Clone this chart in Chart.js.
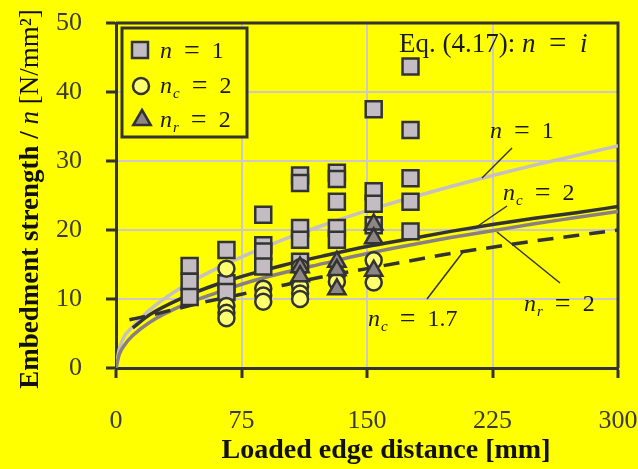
<!DOCTYPE html>
<html lang="en">
<head>
<meta charset="UTF-8" />
<title>Embedment strength vs loaded edge distance</title>
<script src="https://cdn.jsdelivr.net/npm/chart.js"></script>
<style>
  body { margin: 0; background: #ffff00; }
  #wrap { width: 638px; height: 469px; position: relative; }
</style>
</head>
<body>
<div id="wrap"><canvas id="embedChart"></canvas></div>
<script>
// axis ticks
const xTicks = [0, 75, 150, 225, 300];
const yTicks = [0, 10, 20, 30, 40, 50];

// test results, n = 1 (squares)
const squareX = [44, 44, 44, 66, 66, 66, 88, 88, 88, 88, 110, 110, 110, 110, 110,
                 132, 132, 132, 132, 132, 154, 154, 154, 154, 176, 176, 176, 176, 176];
const squareY = [14.8, 12.5, 10.3, 17.1, 12.3, 11.0, 22.2, 17.8, 16.9, 14.7, 27.9, 26.8, 20.3, 18.6, 15.4,
                 28.3, 27.4, 24.1, 20.3, 18.6, 37.5, 25.6, 23.8, 20.7, 43.7, 34.5, 27.5, 24.1, 19.8];

// test results, n_c = 2 (circles)
const circleX = [66, 66, 66, 66, 88, 88, 88, 110, 110, 110, 110, 132, 132, 154, 154];
const circleY = [14.4, 9.0, 8.0, 7.2, 11.5, 10.5, 9.6, 14.6, 11.8, 10.8, 10.0, 13.5, 12.5, 15.6, 12.4];

// test results, n_r = 2 (triangles)
const triX = [110, 110, 132, 132, 132, 154, 154, 154];
const triY = [14.6, 13.3, 15.4, 14.2, 11.4, 20.8, 18.8, 14.1];

// Eq. (4.17) curves
const curveN1X = [0, 2, 5, 10, 20, 40, 60, 80, 100, 125, 150, 175, 200, 225, 250, 275, 300];
const curveN1Y = [0, 2.8, 4.6, 6.0, 8.4, 11.8, 14.4, 16.6, 18.6, 20.8, 22.8, 24.6, 26.3, 27.9, 29.4, 30.8, 32.2];

const curveNc2X = [10, 20, 40, 60, 80, 100, 125, 150, 175, 200, 225, 250, 275, 300];
const curveNc2Y = [5.8, 7.7, 10.2, 12.1, 13.6, 14.9, 16.3, 17.6, 18.7, 19.8, 20.8, 21.7, 22.5, 23.4];

const curveNr2X = [0, 2, 5, 10, 20, 40, 60, 80, 100, 125, 150, 175, 200, 225, 250, 275, 300];
const curveNr2Y = [0, 2.0, 3.3, 4.7, 6.6, 9.1, 10.9, 12.5, 13.8, 15.2, 16.6, 17.8, 18.9, 19.9, 20.9, 21.8, 22.7];

const curveNc17X = [8, 20, 30, 50, 75, 100, 125, 150, 175, 200, 225, 250, 275, 300];
const curveNc17Y = [7.0, 7.6, 8.2, 9.4, 10.7, 12.0, 13.3, 14.4, 15.5, 16.6, 17.5, 18.4, 19.2, 20.0];

const SERIF = '"Liberation Serif", "DejaVu Serif", serif';
const INK = '#333333';
const SQUARE_FILL = '#c3bcc2';
const CIRCLE_FILL = '#ffff70';
const TRI_FILL = '#8e8585';

const pts = (xs, ys) => xs.map((x, i) => ({ x: x, y: ys[i] }));

function mathLabel(ctx, x, y, base, sub, rhs, size, rhsItalic) {
  ctx.font = `italic ${size}px ${SERIF}`;
  ctx.fillText(base, x, y);
  let cx = x + ctx.measureText(base).width;
  if (sub) {
    ctx.font = `italic ${Math.round(size * 0.62)}px ${SERIF}`;
    ctx.fillText(sub, cx + 1, y + size * 0.2);
    cx += ctx.measureText(sub).width + 1;
  }
  ctx.font = `${size}px ${SERIF}`;
  cx += size * 0.5;
  ctx.font = `${Math.round(size * 1.15)}px ${SERIF}`;
  ctx.fillText('=', cx, y + 1);
  cx += ctx.measureText('=').width + size * 0.5;
  ctx.font = `${rhsItalic ? 'italic ' : ''}${size}px ${SERIF}`;
  ctx.fillText(rhs, cx, y);
}

function leader(ctx, x1, y1, x2, y2) {
  ctx.beginPath();
  ctx.moveTo(x1, y1);
  ctx.lineTo(x2, y2);
  ctx.stroke();
}

function marker(ctx, kind, x, y) {
  ctx.lineWidth = 2.5;
  ctx.strokeStyle = INK;
  ctx.beginPath();
  if (kind === 'rect') {
    ctx.fillStyle = SQUARE_FILL;
    ctx.rect(x - 8, y - 8, 16, 16);
  } else if (kind === 'circle') {
    ctx.fillStyle = CIRCLE_FILL;
    ctx.arc(x, y, 8, 0, Math.PI * 2);
  } else {
    ctx.fillStyle = TRI_FILL;
    ctx.moveTo(x, y - 10);
    ctx.lineTo(x + 8.7, y + 5);
    ctx.lineTo(x - 8.7, y + 5);
    ctx.closePath();
  }
  ctx.fill();
  ctx.stroke();
}

const decorations = {
  id: 'decorations',
  beforeDraw(chart) {
    const ctx = chart.ctx;
    ctx.save();
    ctx.fillStyle = '#ffff00';
    ctx.fillRect(0, 0, chart.width, chart.height);
    ctx.restore();
  },
  beforeDatasetsDraw(chart) {
    const { ctx, chartArea: a } = chart;
    ctx.save();
    ctx.strokeStyle = INK;
    ctx.lineWidth = 3;
    ctx.beginPath();
    ctx.moveTo(a.left, a.top);
    ctx.lineTo(a.right, a.top);
    ctx.lineTo(a.right, a.bottom);
    ctx.stroke();
    ctx.restore();
  },
  afterDraw(chart) {
    const ctx = chart.ctx;
    ctx.save();
    ctx.textBaseline = 'alphabetic';

    // legend
    ctx.fillStyle = '#ffff00';
    ctx.fillRect(122, 28, 125, 109);
    ctx.strokeStyle = INK;
    ctx.lineWidth = 3;
    ctx.strokeRect(122, 28, 125, 109);
    marker(ctx, 'rect', 140, 50);
    marker(ctx, 'circle', 141, 86);
    marker(ctx, 'tri', 142, 120);
    ctx.fillStyle = '#1a1a1a';
    mathLabel(ctx, 160, 58, 'n', '', '1', 24);
    mathLabel(ctx, 160, 93, 'n', 'c', '2', 24);
    mathLabel(ctx, 160, 127, 'n', 'r', '2', 24);

    // equation note
    ctx.font = `27px ${SERIF}`;
    ctx.fillText('Eq. (4.17):', 399, 52);
    const w = ctx.measureText('Eq. (4.17): ').width;
    mathLabel(ctx, 399 + w, 52, 'n', '', 'i', 27, true);

    // curve labels
    mathLabel(ctx, 490, 138, 'n', '', '1', 24);
    mathLabel(ctx, 503, 200, 'n', 'c', '2', 24);
    mathLabel(ctx, 524, 311, 'n', 'r', '2', 24);
    mathLabel(ctx, 368, 326, 'n', 'c', '1.7', 24);
    ctx.strokeStyle = INK;
    ctx.lineWidth = 1.5;
    leader(ctx, 512, 148, 482, 178);
    leader(ctx, 507, 206, 475, 228);
    leader(ctx, 497, 232, 560, 283);
    leader(ctx, 427, 299, 463, 252);

    // axis titles
    ctx.fillStyle = '#111111';
    ctx.textAlign = 'center';
    ctx.font = `bold 28px ${SERIF}`;
    ctx.fillText('Loaded edge distance [mm]', 386, 458);

    ctx.translate(38, 199);
    ctx.rotate(-Math.PI / 2);
    ctx.textAlign = 'left';
    const parts = [
      [`bold 27px ${SERIF}`, 'Embedment strength / '],
      [`italic 27px ${SERIF}`, 'n'],
      [`27px ${SERIF}`, ' [N/mm²]']
    ];
    let total = 0;
    parts.forEach(p => { ctx.font = p[0]; total += ctx.measureText(p[1]).width; });
    let px = -total / 2;
    parts.forEach(p => {
      ctx.font = p[0];
      ctx.fillText(p[1], px, 0);
      px += ctx.measureText(p[1]).width;
    });
    ctx.restore();
  }
};

const tickFont = { family: SERIF, size: 26 };

new Chart(document.getElementById('embedChart'), {
  type: 'scatter',
  data: {
    datasets: [
      {
        label: 'n = 1', data: pts(squareX, squareY), order: 3,
        pointStyle: 'rect', pointRadius: 11.3, pointBackgroundColor: SQUARE_FILL,
        pointBorderColor: INK, pointBorderWidth: 2.5
      },
      {
        label: 'nc = 2', data: pts(circleX, circleY), order: 2,
        pointStyle: 'circle', pointRadius: 8, pointBackgroundColor: CIRCLE_FILL,
        pointBorderColor: INK, pointBorderWidth: 2.5
      },
      {
        label: 'nr = 2', data: pts(triX, triY), order: 1,
        pointStyle: 'triangle', pointRadius: 10, pointBackgroundColor: TRI_FILL,
        pointBorderColor: INK, pointBorderWidth: 2.5
      },
      {
        label: 'Eq. n = 1', data: pts(curveN1X, curveN1Y), order: 13, showLine: true,
        borderColor: '#c6c0c0', borderWidth: 3.5, pointRadius: 0, cubicInterpolationMode: 'monotone'
      },
      {
        label: 'Eq. nr = 2', data: pts(curveNr2X, curveNr2Y), order: 12, showLine: true,
        borderColor: '#8a8080', borderWidth: 3.5, pointRadius: 0, cubicInterpolationMode: 'monotone'
      },
      {
        label: 'Eq. nc = 1.7', data: pts(curveNc17X, curveNc17Y), order: 11, showLine: true,
        borderColor: INK, borderWidth: 3.5, borderDash: [16, 10], pointRadius: 0,
        cubicInterpolationMode: 'monotone'
      },
      {
        label: 'Eq. nc = 2', data: pts(curveNc2X, curveNc2Y), order: 10, showLine: true,
        borderColor: INK, borderWidth: 3.5, pointRadius: 0, cubicInterpolationMode: 'monotone'
      }
    ]
  },
  options: {
    responsive: true,
    maintainAspectRatio: false,
    animation: false,
    layout: { padding: { top: 23, right: 20, left: 0, bottom: 0 } },
    plugins: { legend: { display: false }, tooltip: { enabled: false } },
    scales: {
      x: {
        type: 'linear', min: 0, max: 300,
        afterBuildTicks: s => { s.ticks = xTicks.map(v => ({ value: v })); },
        afterFit: s => { s.height = 101; s.paddingLeft = 0; s.paddingRight = 0; },
        border: { display: true, color: INK, width: 3 },
        grid: { color: '#cfc8c8', lineWidth: 2, tickColor: INK, tickWidth: 3, tickLength: 10 },
        ticks: { font: tickFont, color: '#3a3a3a', padding: 28, maxRotation: 0 }
      },
      y: {
        type: 'linear', min: 0, max: 50,
        afterBuildTicks: s => { s.ticks = yTicks.map(v => ({ value: v })); },
        afterFit: s => { s.width = 116; s.paddingTop = 0; s.paddingBottom = 0; },
        border: { display: true, color: INK, width: 3 },
        grid: { color: '#cfc8c8', lineWidth: 2, tickColor: INK, tickWidth: 3, tickLength: 10 },
        ticks: { font: tickFont, color: '#3a3a3a', padding: 24 }
      }
    }
  },
  plugins: [decorations]
});
</script>
</body>
</html>
